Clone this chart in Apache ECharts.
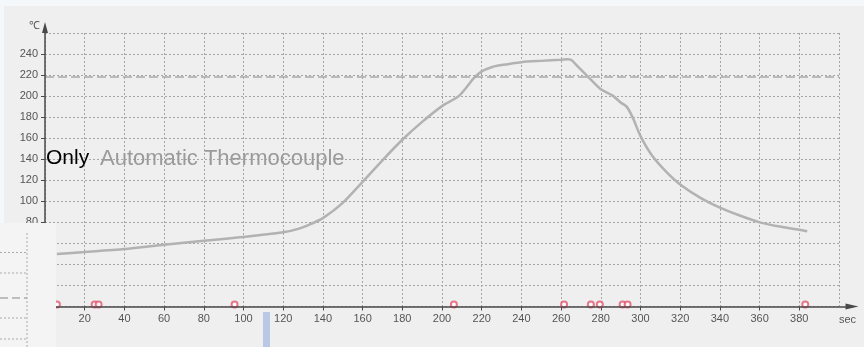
<!DOCTYPE html>
<html>
<head>
<meta charset="utf-8">
<script src="https://cdn.jsdelivr.net/npm/echarts@6/dist/echarts.min.js"></script>
<style>
  html, body { margin: 0; padding: 0; background: #f5f8fb; }
  #chart { width: 864px; height: 347px; }
</style>
</head>
<body>
<div id="chart"></div>
<script>
// Reflow profile: time (sec) against measured temperature (°C)
const timeSec = [6, 20, 40, 60, 80, 100, 120, 128, 134, 140, 150, 160, 170, 180, 190, 200,
  206, 209, 212, 216, 220, 225, 230, 240, 250, 260, 263, 265, 269, 273, 280, 286, 290, 293,
  296, 300, 306, 313, 320, 330, 340, 350, 360, 370, 380, 384];
const tempC = [50, 51.8, 54.6, 58.7, 62.6, 66, 70.5, 74, 78.5, 84, 98.5, 118.5, 139, 158.5, 175.5, 190.5,
  197, 201, 207.5, 217, 223.5, 227.5, 229.5, 232.3, 233.5, 234.5, 235, 234.5, 227, 219.5, 206.5, 200.5, 194, 190,
  180, 162, 143, 128, 116, 103.5, 94, 86.5, 80, 76, 73, 71.5];

// Peak temperature limit drawn as a dashed reference line
const peakLimit = [218];

// Event markers along the time axis
const markerSec = [6, 25, 27, 95.5, 206, 261.5, 275, 279.5, 291, 293.5, 383];
const markerLevel = [2];

// Axis ranges and steps
const xRange = [0, 400], xStep = 20;
const yRange = [0, 260], yStep = 20;

const axisColor = '#4a4a4a';
const gridColor = '#a6a6a6';
const labelFont = { fontFamily: 'Liberation Sans, Arial, sans-serif', fontSize: 11, color: '#555' };
const captionFont = 'Liberation Sans, Arial, sans-serif';

const chart = echarts.init(document.getElementById('chart'), null, { renderer: 'canvas' });

// Decorative lines of the window overlapping the lower left corner
const sideLines = [
  [0, 252.5, 27, 252.5, 1, [2, 2]],
  [0, 273, 27, 273, 1, [2, 2]],
  [0, 298, 27, 298, 1.5, [8, 4]],
  [0, 318, 27, 318, 1, [2, 2]],
  [0, 339, 27, 339, 1, [2, 2]],
  [27, 233, 27, 347, 1, [2, 2]]
].map(([x1, y1, x2, y2, w, dash]) => ({
  type: 'line', z: 101, silent: true,
  shape: { x1, y1, x2, y2 },
  style: { stroke: '#aaa', lineWidth: w, lineDash: dash }
}));

chart.setOption({
  backgroundColor: '#f5f8fb',
  animation: false,
  grid: [
    { left: 45, right: 25, top: 33, bottom: 40.5 },
    { left: 45, right: 12, top: 27.5, bottom: 40.5 }
  ],
  xAxis: [
    {
      gridIndex: 0, type: 'value', min: xRange[0], max: xRange[1], interval: xStep,
      name: 'sec', nameLocation: 'end', nameGap: 0,
      nameTextStyle: Object.assign({}, labelFont, { align: 'left', verticalAlign: 'top', padding: [8, 0, 0, 0] }),
      axisLine: { show: false },
      axisTick: { show: true, length: 4, lineStyle: { color: axisColor, width: 1 } },
      axisLabel: Object.assign({}, labelFont, { margin: 7, showMinLabel: false, showMaxLabel: false }),
      splitLine: { show: true, lineStyle: { color: gridColor, type: [2, 2], width: 1 } }
    },
    {
      gridIndex: 1, type: 'value', min: 0, max: 1, z: 10,
      axisLine: { show: true, onZero: false, symbol: ['none', 'triangle'], symbolSize: [6, 13],
        lineStyle: { color: axisColor, width: 1.5 } },
      axisTick: { show: false }, axisLabel: { show: false }, splitLine: { show: false }
    }
  ],
  yAxis: [
    {
      gridIndex: 0, type: 'value', min: yRange[0], max: yRange[1], interval: yStep,
      name: '℃', nameLocation: 'end', nameGap: 2,
      nameTextStyle: Object.assign({}, labelFont, { fontSize: 11, align: 'right', padding: [0, 5, 0, 0] }),
      axisLine: { show: false },
      axisTick: { show: true, length: 4, lineStyle: { color: axisColor, width: 1 } },
      axisLabel: Object.assign({}, labelFont, { margin: 7, showMinLabel: false, showMaxLabel: false }),
      splitLine: { show: true, lineStyle: { color: gridColor, type: [2, 2], width: 1 } }
    },
    {
      gridIndex: 1, type: 'value', min: 0, max: 1, z: 10,
      axisLine: { show: true, onZero: false, symbol: ['none', 'triangle'], symbolSize: [6, 11],
        lineStyle: { color: axisColor, width: 1.5 } },
      axisTick: { show: false }, axisLabel: { show: false }, splitLine: { show: false }
    }
  ],
  series: [
    {
      type: 'line',
      xAxisIndex: 0, yAxisIndex: 0,
      data: timeSec.map((t, i) => [t, tempC[i]]),
      showSymbol: false,
      smooth: 0.25,
      lineStyle: { color: '#b2b2b2', width: 2.5 },
      markLine: {
        silent: true,
        symbol: ['none', 'none'],
        label: { show: false },
        lineStyle: { color: '#a9a9a9', type: [9, 4], width: 1.5 },
        data: peakLimit.map(v => ({ yAxis: v }))
      },
      z: 3
    },
    {
      type: 'scatter',
      xAxisIndex: 0, yAxisIndex: 0,
      data: markerSec.map(t => [t, markerLevel[0]]),
      symbol: 'emptyCircle',
      symbolSize: 6,
      itemStyle: { color: '#e2566f', borderColor: '#e2566f', borderWidth: 1.2 },
      z: 4
    }
  ],
  graphic: [
    // window panel background
    { type: 'rect', shape: { x: 4, y: 6, width: 860, height: 341 }, style: { fill: '#efefef' }, z: -10, silent: true },
    // caption text
    {
      type: 'text', left: 46, top: 148, z: 50,
      style: { text: 'Only', font: '21px ' + captionFont, fill: '#000' }
    },
    {
      type: 'text', left: 100, top: 148, z: 50,
      style: { text: 'Automatic Thermocouple', font: '22px ' + captionFont, fill: '#9a9a9a' }
    },
    // overlapping window in the lower left corner
    { type: 'rect', z: 100, silent: true, shape: { x: 0, y: 223, width: 56, height: 124 }, style: { fill: '#f4f4f4' } }
  ].concat(sideLines).concat([
    // selection caret below the time axis
    { type: 'rect', z: 100, silent: true, shape: { x: 263, y: 312, width: 7, height: 35 }, style: { fill: '#b9c8e4' } }
  ])
});
</script>
</body>
</html>
